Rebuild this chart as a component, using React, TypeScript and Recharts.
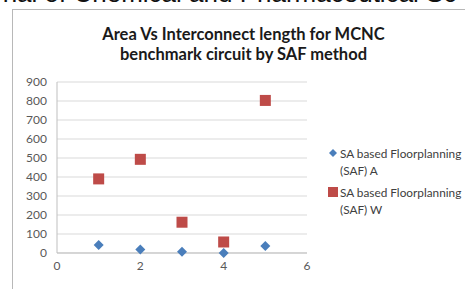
import { CartesianGrid, Scatter, ScatterChart, XAxis, YAxis } from 'recharts';

const circuits = [1, 2, 3, 4, 5];
const areaA = [42, 19, 7, 0, 37];
const lengthW = [390, 493, 162, 58, 803];
const yTicks = [0, 100, 200, 300, 400, 500, 600, 700, 800, 900];
const xTicks = [0, 2, 4, 6];
const seriesNames = ['SA based Floorplanning (SAF) A', 'SA based Floorplanning (SAF) W'];

const BLUE = '#4a7ebb';
const RED = '#be4b48';
const FONT = 'Lato, "Open Sans", sans-serif';

const dataA = circuits.map((x, i) => ({ x, y: areaA[i] }));
const dataW = circuits.map((x, i) => ({ x, y: lengthW[i] }));

const Diamond = ({ cx, cy }: any) => (
    <polygon
        points={`${cx},${cy - 5} ${cx + 5},${cy} ${cx},${cy + 5} ${cx - 5},${cy}`}
        fill={BLUE}
    />
);

const Square = ({ cx, cy }: any) => (
    <rect x={cx - 5.5} y={cy - 5.5} width={11} height={11} fill={RED} />
);

const LegendBox = () => (
    <div style={{ fontFamily: FONT, fontSize: 11.8, color: '#404040', lineHeight: '17px' }}>
        <div style={{ display: 'flex', alignItems: 'flex-start' }}>
            <svg width={11} height={17}>
                <polygon points="5,4 9,8 5,12 1,8" fill={BLUE} />
            </svg>
            <div style={{ marginLeft: 1 }}>
                SA based Floorplanning
                <br />
                (SAF) A
            </div>
        </div>
        <div style={{ display: 'flex', alignItems: 'flex-start', marginTop: 5 }}>
            <svg width={11} height={17}>
                <rect x={0} y={3} width={10} height={10} fill={RED} />
            </svg>
            <div style={{ marginLeft: 1 }}>
                SA based Floorplanning
                <br />
                (SAF) W
            </div>
        </div>
    </div>
);

const App = () => {
    return (
        <div
            style={{
                position: 'absolute',
                left: 0,
                top: 0,
                width: 465,
                height: 289,
                overflow: 'hidden',
                background: '#fff',
            }}
        >
            <div
                style={{
                    position: 'absolute',
                    left: -6,
                    top: -22,
                    fontFamily: '"Liberation Sans", Arial, sans-serif',
                    fontSize: 26,
                    color: '#111',
                    whiteSpace: 'nowrap',
                }}
            >
                rnal of Chemical and Pharmaceutical Sc
            </div>
            <div
                style={{
                    position: 'absolute',
                    left: 12,
                    top: 9,
                    width: 470,
                    height: 300,
                    border: '1px solid #b8b8b8',
                    boxShadow: '1px 1px 1px #ddd',
                }}
            />
            <div
                style={{
                    position: 'absolute',
                    left: 0,
                    top: 24,
                    width: 487,
                    textAlign: 'center',
                    fontFamily: FONT,
                    fontWeight: 'bold',
                    fontSize: 16.5,
                    lineHeight: '20px',
                    color: '#1a1a1a',
                }}
            >
                Area Vs Interconnect length for MCNC
                <br />
                benchmark circuit by SAF method
            </div>
            <div style={{ position: 'absolute', left: 0, top: 0 }}>
                <ScatterChart
                    width={465}
                    height={289}
                    margin={{ top: 82, right: 158, bottom: 16, left: 12 }}
                >
                    <CartesianGrid vertical={false} stroke="#d9d9d9" />
                    <XAxis
                        type="number"
                        dataKey="x"
                        domain={[0, 6]}
                        ticks={xTicks}
                        height={20}
                        tickLine={false}
                        axisLine={{ stroke: '#bfbfbf' }}
                        tick={{ fontSize: 12, fill: '#595959', fontFamily: FONT }}
                    />
                    <YAxis
                        type="number"
                        dataKey="y"
                        domain={[0, 900]}
                        ticks={yTicks}
                        interval={0}
                        width={45}
                        tickLine={false}
                        tickMargin={4}
                        axisLine={{ stroke: '#bfbfbf' }}
                        tick={{ fontSize: 12, fill: '#595959', fontFamily: FONT }}
                    />
                    <Scatter
                        name={seriesNames[0]}
                        data={dataA}
                        shape={<Diamond />}
                        isAnimationActive={false}
                    />
                    <Scatter
                        name={seriesNames[1]}
                        data={dataW}
                        shape={<Square />}
                        isAnimationActive={false}
                    />
                </ScatterChart>
            </div>
            <div style={{ position: 'absolute', left: 328, top: 145, width: 140 }}>
                <LegendBox />
            </div>
        </div>
    );
};

export default App;
